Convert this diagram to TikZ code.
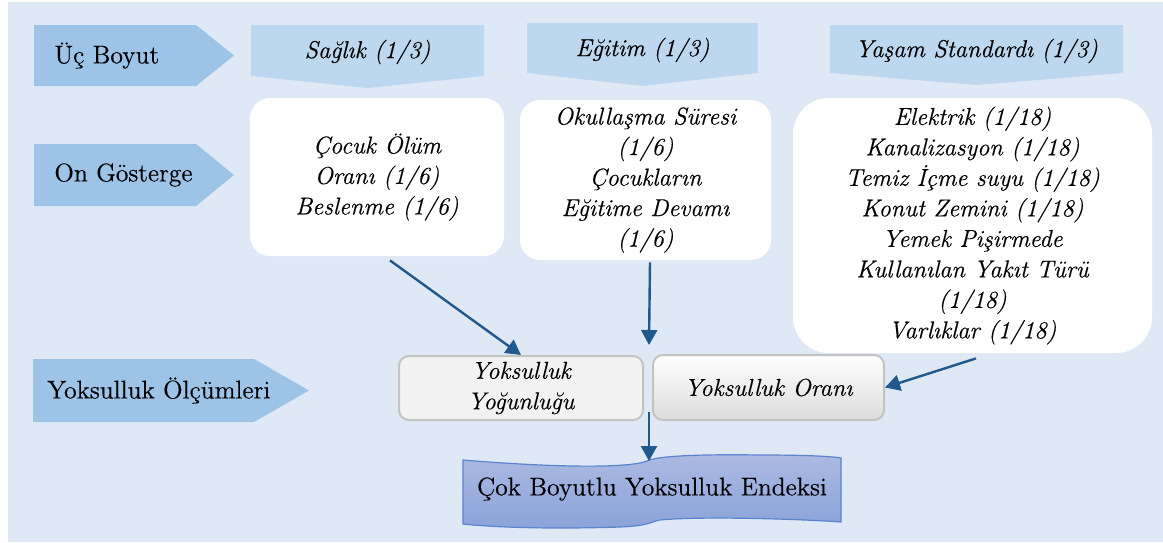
\documentclass[tikz,border=0pt]{standalone}
\usepackage{fontspec}
\setmainfont{lmroman12}[Extension=.otf, UprightFont=*-regular, ItalicFont=*-italic,
  UprightFeatures={FakeBold=0.4}, ItalicFeatures={FakeBold=0.4}]
\usetikzlibrary{arrows.meta,calc}
\definecolor{bgc}{HTML}{DEE9F5}
\definecolor{sidec}{HTML}{9DC3E6}
\definecolor{headc}{HTML}{BDD7EE}
\definecolor{arrc}{HTML}{22598C}
\definecolor{mborder}{HTML}{C3C3C3}
\definecolor{mfill}{HTML}{F2F2F2}
\definecolor{mlow}{HTML}{DCDCDC}
\definecolor{wtop}{HTML}{ABBAE2}
\definecolor{wbot}{HTML}{8BA2D9}
\definecolor{wline}{HTML}{5A84CF}
\begin{document}
\begin{tikzpicture}[x=0.5pt,y=-0.5pt,
  every node/.style={font=\fontsize{12.8pt}{15.25pt}\selectfont, inner sep=0pt},
  sidelabel/.style={anchor=west},
  itxt/.style={font=\fontsize{12.2pt}{15.25pt}\selectfont\itshape, align=center},
  wbox/.style={fill=white, draw=none, itxt},
  mbox/.style={draw=mborder, line width=1pt, rounded corners=5pt, itxt},
  link/.style={draw=arrc, line width=1.2pt, -{Triangle[length=7.5pt,width=8pt]}}
]
\useasboundingbox (0,0) rectangle (1163,542);
% background panel
\fill[bgc] (8,2) rectangle (1163,542);

% row labels (pentagon arrows)
\fill[sidec] (34,25) -- (196,25) -- (234,55.5) -- (196,86) -- (34,86) -- cycle;
\node[sidelabel] (dims) at (54,55.5) {Üç Boyut};
\fill[sidec] (34,144) -- (196,144) -- (234,175) -- (196,206) -- (34,206) -- cycle;
\node[sidelabel] (inds) at (54,175) {On Gösterge};
\fill[sidec] (33,359) -- (254,359) -- (309,390.5) -- (254,422) -- (33,422) -- cycle;
\node[sidelabel] (meas) at (47,390.5) {Yoksulluk Ölçümleri};

% dimension headers
\fill[headc] (251,25) -- (484,25) -- (484,76) -- (367.5,88) -- (251,76) -- cycle;
\node[itxt] (h1) at (367.5,52) {Sağlık (1/3)};
\fill[headc] (527,23) -- (758,23) -- (758,73) -- (642.5,86) -- (527,73) -- cycle;
\node[itxt] (h2) at (642.5,50) {Eğitim (1/3)};
\fill[headc] (830,25) -- (1123,25) -- (1123,73) -- (976.5,85) -- (830,73) -- cycle;
\node[itxt] (h3) at (976.5,51) {Yaşam Standardı (1/3)};

% indicator boxes
\node[wbox, rounded corners=10pt, minimum width=127pt, minimum height=79pt] (b1) at (377,177)
  {Çocuk Ölüm\\Oranı (1/6)\\Beslenme (1/6)};
\node[wbox, rounded corners=10pt, minimum width=125.5pt, minimum height=80pt] (b2) at (645.5,180)
  {Okullaşma Süresi\\(1/6)\\Çocukların\\Eğitime Devamı\\(1/6)};
\node[wbox, rounded corners=18pt, minimum width=179.5pt, minimum height=127.5pt] (b3) at (972.5,225.5)
  {Elektrik (1/18)\\Kanalizasyon (1/18)\\Temiz İçme suyu (1/18)\\Konut Zemini (1/18)\\Yemek Pişirmede\\Kullanılan Yakıt Türü\\(1/18)\\Varlıklar (1/18)};

% poverty measures
\node[mbox, fill=mfill, minimum width=122pt, minimum height=32pt] (m1) at (521,388)
  {Yoksulluk\\Yoğunluğu};
\node[mbox, top color=white, bottom color=mlow, minimum width=115.5pt, minimum height=32.5pt] (m2) at (768.5,387.5)
  {Yoksulluk Oranı};

% index banner
\path[top color=wtop, bottom color=wbot, draw=wline, line width=0.6pt]
  (463,460) .. controls (560,468) and (630,468) .. (647,461)
  .. controls (656,456) and (700,454) .. (760,455)
  .. controls (800,455) and (830,456) .. (841,458)
  -- (841,522)
  .. controls (800,519) and (700,516) .. (660,520)
  .. controls (650,522) and (648,526) .. (620,527)
  .. controls (560,529) and (500,528) .. (463,524) -- cycle;
\node (mpi) at (652,489) {Çok Boyutlu Yoksulluk Endeksi};

% connectors
\coordinate (gaptop) at (649,345);
\coordinate (gaplow) at (649,412);
\coordinate (mpitop) at (649,461);
\draw[link] ($(b1.south)+(13,4)$) -- (m1.north);
\draw[link] ($(b2.south)+(4.5,2)$) -- (gaptop);
\draw[link] ($(b3.south)+(3.5,5)$) -- (m2.east);
\draw[link] (gaplow) -- (mpitop);
\end{tikzpicture}
\end{document}
